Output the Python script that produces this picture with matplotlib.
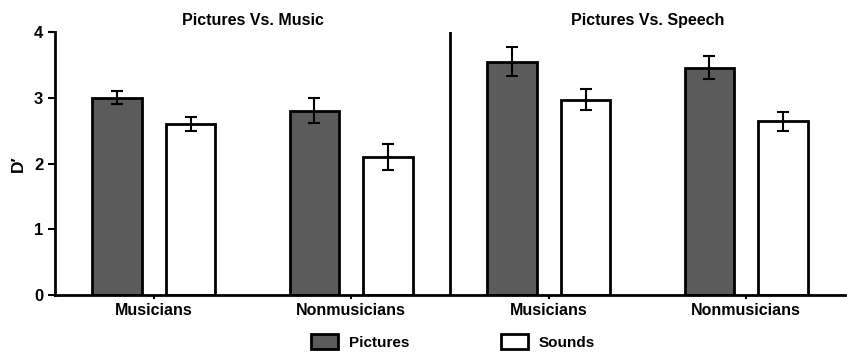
import matplotlib
matplotlib.use("Agg")
import matplotlib.pyplot as plt
import numpy as np

plt.rcParams['font.family'] = ['Liberation Sans', 'DejaVu Sans']
plt.rcParams['font.weight'] = 'bold'

groups = ["Musicians", "Nonmusicians", "Musicians", "Nonmusicians"]
panel_titles = ["Pictures Vs. Music", "Pictures Vs. Speech"]
pictures = [3.00, 2.80, 3.55, 3.46]
pictures_err = [0.10, 0.19, 0.22, 0.18]
sounds = [2.60, 2.10, 2.97, 2.64]
sounds_err = [0.11, 0.20, 0.16, 0.14]
yticks = [0, 1, 2, 3, 4]

fig = plt.figure(figsize=(8.47, 3.52), dpi=100)
ax = fig.add_axes([55/847, 1-295/352, (845-55)/847, (295-32)/352])

x = np.arange(len(groups))
w = 0.25
off = 0.187
dark = "#5b5b5b"
ax.bar(x - off, pictures, width=w, color=dark, edgecolor="black", linewidth=2, label="Pictures", zorder=2)
ax.bar(x + off, sounds, width=w, color="white", edgecolor="black", linewidth=2, label="Sounds", zorder=2)
ax.errorbar(x - off, pictures, yerr=pictures_err, fmt="none", ecolor="black", elinewidth=1.5, capsize=4, capthick=1.5, zorder=3)
ax.errorbar(x + off, sounds, yerr=sounds_err, fmt="none", ecolor="black", elinewidth=1.5, capsize=4, capthick=1.5, zorder=3)

ax.set_xlim(-0.5, 3.5)
ax.set_ylim(0, 4)
ax.set_yticks(yticks)
ax.set_xticks(x)
ax.set_xticklabels(groups, fontsize=11.5, fontweight='bold')
ax.tick_params(axis='y', labelsize=12, width=1.5, length=5, direction='out')
ax.tick_params(axis='x', width=1.5, length=3, direction='out', pad=3)
for lab in ax.get_yticklabels():
    lab.set_fontweight('bold')

for s in ["top", "right"]:
    ax.spines[s].set_visible(False)
for s in ["left", "bottom"]:
    ax.spines[s].set_linewidth(2)

ax.axvline(1.5, color="black", linewidth=2)

ax.set_ylabel("D\u2032", fontsize=12.5, fontweight='bold', labelpad=6)

for i, t in enumerate(panel_titles):
    ax.text(0.5 + 2*i, 4.17, t, ha="center", va="center", fontsize=11.5, fontweight='bold', clip_on=False)

fig.legend(loc="center", bbox_to_anchor=(453/847, 0.028), ncol=2, frameon=False,
           handlelength=1.8, handleheight=1.15, handletextpad=0.7,
           columnspacing=6.0, prop={'weight': 'bold', 'size': 11})

fig.savefig("out.png", dpi=100)
